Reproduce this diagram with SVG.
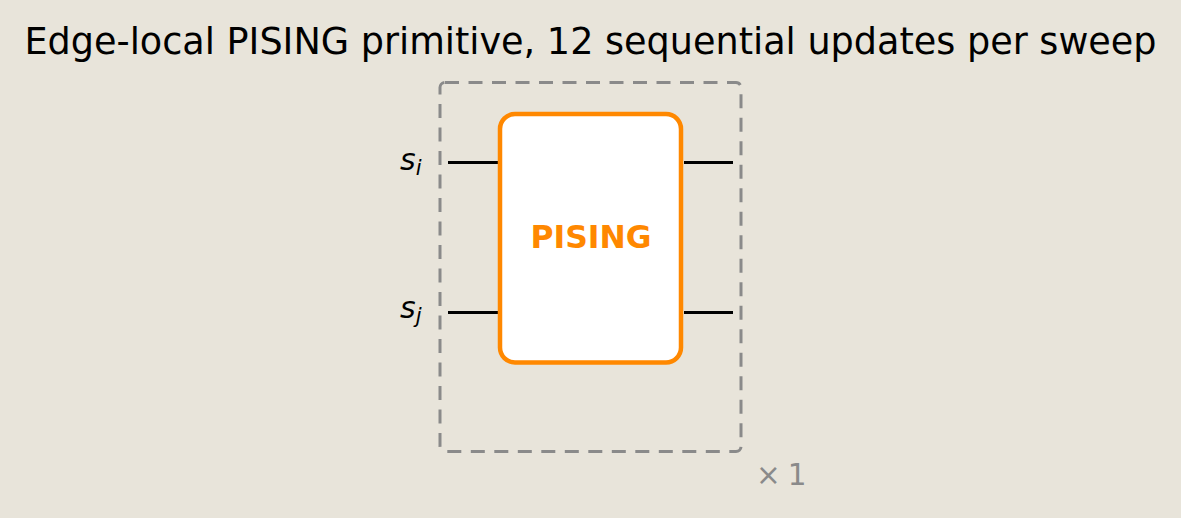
<svg xmlns="http://www.w3.org/2000/svg" width="1181" height="518" viewBox="0 0 1181 518">
<style>
.t{font-family:"DejaVu Sans",sans-serif}
.wire{stroke:#000;stroke-width:3.2;fill:none}
.lbl{font-family:"DejaVu Sans",sans-serif;font-style:italic;font-size:30px;fill:#000}
.sub{font-size:21px}
</style>
<rect width="1181" height="518" fill="#e8e4da"/>
<text class="t" x="590.5" y="54" font-size="36.6" text-anchor="middle" fill="#000">Edge-local PISING primitive, 12 sequential updates per sweep</text>
<g id="repeat">
<rect x="440" y="82.5" width="301" height="369" rx="5" fill="none" stroke="#8a8a8a" stroke-width="3" stroke-dasharray="14,9.5"/>
<text class="t" x="756" y="485" font-size="29.5" fill="#8a8a8a">×<tspan dx="7">1</tspan></text>
</g>
<g id="connectors">
<line class="wire" x1="448" y1="162.5" x2="498" y2="162.5"/>
<line class="wire" x1="684" y1="162.5" x2="733" y2="162.5"/>
<line class="wire" x1="448" y1="312.5" x2="498" y2="312.5"/>
<line class="wire" x1="684" y1="312.5" x2="733" y2="312.5"/>
</g>
<g id="label-si"><text class="lbl" x="400" y="170">s<tspan class="sub" dy="5">i</tspan></text></g>
<g id="label-sj"><text class="lbl" x="400" y="318">s<tspan class="sub" dy="5">j</tspan></text></g>
<g id="pising">
<rect x="500" y="114" width="181" height="248.5" rx="15" fill="#fff" stroke="#ff8800" stroke-width="4.5"/>
<text class="t" x="591" y="248" font-size="31.4" font-weight="bold" text-anchor="middle" fill="#ff8800">PISING</text>
</g>
</svg>
